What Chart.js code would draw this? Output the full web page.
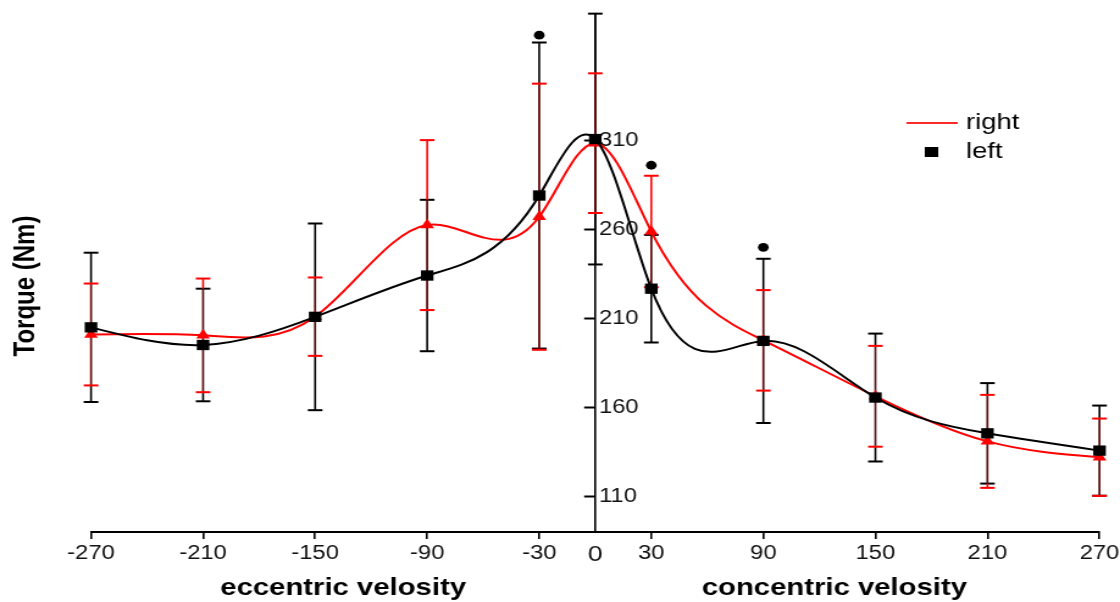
<!DOCTYPE html>
<html>
<head>
<meta charset="utf-8">
<script src="https://cdn.jsdelivr.net/npm/chart.js@4.4.1/dist/chart.umd.min.js"></script>
<style>
html,body{margin:0;padding:0;background:#fff;overflow:hidden}
</style>
</head>
<body>
<canvas id="c" width="918" height="602" style="display:block;width:1120px;height:602px"></canvas>
<script>
// ---------------- data ----------------
const velocities    = [-270, -210, -150, -90, -30, 0, 30, 90, 150, 210, 270];
const leftMeans     = [205.1, 195.2, 211.0, 234.2, 279.1, 310.8, 226.8, 197.5, 165.7, 145.6, 135.9];
const leftSD        = [41.9, 31.6, 52.4, 42.5, 85.9, 70.4, 30.2, 46.1, 35.9, 28.2, 25.3];
const rightMeans    = [201.1, 200.6, 211.1, 262.5, 267.2, 308.5, 258.9, 197.8, 166.4, 141.1, 132.2];
const rightSD       = [28.6, 31.9, 22.0, 47.7, 74.7, 39.2, 31.3, 28.2, 28.3, 26.1, 21.7];
const sigVelocities = [-30, 30, 90];
const sigMarks      = [369.1, 296.1, 250.0];
const xTicks        = [-270, -210, -150, -90, -30, 0, 30, 90, 150, 210, 270];
const yTicks        = [110, 160, 210, 260, 310];
const xTitles       = ['eccentric velosity', 'concentric velosity'];
const xTitleAt      = [-135, 128];
const seriesNames   = ['left', 'right'];
const yTitleText    = 'Torque (Nm)';

// ---------------- helpers ----------------
const FONT = "'Liberation Sans', Arial, sans-serif";
Chart.defaults.font.family = FONT;
Chart.defaults.color = '#000';
const RED = '#ff0000';

function makeSwatch(w, h, color) {
  const c = document.createElement('canvas');
  c.width = w; c.height = h;
  const g = c.getContext('2d');
  g.fillStyle = color; g.fillRect(0, 0, w, h);
  return c;
}
const legendLine = makeSwatch(42, 2, '#ff2a2a');
const legendSquare = makeSwatch(11, 10, '#000');

// natural cubic spline -> bezier control points on chart.js point elements
function naturalSplineControlPoints(pts) {
  const n = pts.length;
  if (n < 3) return;
  const h = [], dy = [];
  for (let i = 0; i < n - 1; i++) {
    h[i] = pts[i + 1].x - pts[i].x;
    dy[i] = (pts[i + 1].y - pts[i].y) / h[i];
  }
  const M = new Array(n).fill(0);
  const m = n - 2;
  const a = [], b = [], c = [], r = [];
  for (let k = 0; k < m; k++) {
    const i = k + 1;
    a[k] = h[i - 1]; b[k] = 2 * (h[i - 1] + h[i]); c[k] = h[i]; r[k] = 6 * (dy[i] - dy[i - 1]);
  }
  for (let k = 1; k < m; k++) {
    const w = a[k] / b[k - 1];
    b[k] -= w * c[k - 1];
    r[k] -= w * r[k - 1];
  }
  const sol = new Array(m);
  sol[m - 1] = r[m - 1] / b[m - 1];
  for (let k = m - 2; k >= 0; k--) sol[k] = (r[k] - c[k] * sol[k + 1]) / b[k];
  for (let k = 0; k < m; k++) M[k + 1] = sol[k];
  for (let i = 0; i < n; i++) {
    let d;
    if (i < n - 1) d = dy[i] - h[i] * (2 * M[i] + M[i + 1]) / 6;
    else d = dy[n - 2] + h[n - 2] * (M[n - 2] + 2 * M[n - 1]) / 6;
    const p = pts[i];
    if (i > 0) { p.cp1x = p.x - h[i - 1] / 3; p.cp1y = p.y - d * h[i - 1] / 3; }
    else { p.cp1x = p.x; p.cp1y = p.y; }
    if (i < n - 1) { p.cp2x = p.x + h[i] / 3; p.cp2y = p.y + d * h[i] / 3; }
    else { p.cp2x = p.x; p.cp2y = p.y; }
  }
}

const splinePlugin = {
  id: 'naturalSpline',
  beforeDatasetDraw(chart, args) {
    const ds = chart.data.datasets[args.index];
    if (!ds.naturalSpline) return;
    const line = args.meta.dataset;
    line.updateControlPoints(chart.chartArea, 'x');
    naturalSplineControlPoints(args.meta.data);
    line._path = undefined;
  }
};

const errorBarPlugin = {
  id: 'errorBars',
  beforeDatasetsDraw(chart) {
    const {ctx, scales} = chart;
    const xs = scales.x, ys = scales.y;
    const cap = 6;
    const bars = (means, sd) => velocities.map((v, i) => ({
      px: xs.getPixelForValue(v),
      top: ys.getPixelForValue(means[i] + sd[i]),
      bot: ys.getPixelForValue(means[i] - sd[i])
    }));
    const L = bars(leftMeans, leftSD), R = bars(rightMeans, rightSD);
    const seg = (x1, y1, x2, y2) => { ctx.beginPath(); ctx.moveTo(x1, y1); ctx.lineTo(x2, y2); ctx.stroke(); };
    ctx.save();
    ctx.strokeStyle = '#000';
    ctx.lineWidth = 1.6;
    L.forEach(b => seg(b.px, b.top, b.px, b.bot));
    ctx.lineWidth = 2;
    L.forEach(b => { seg(b.px - cap, b.top, b.px + cap, b.top); seg(b.px - cap, b.bot, b.px + cap, b.bot); });
    ctx.strokeStyle = RED;
    R.forEach((b, i) => {
      const k = L[i];
      ctx.lineWidth = 1.6;
      if (b.top < k.top) seg(b.px, b.top, b.px, Math.min(k.top, b.bot));
      if (b.bot > k.bot) seg(b.px, Math.max(k.bot, b.top), b.px, b.bot);
      const oTop = Math.max(b.top, k.top), oBot = Math.min(b.bot, k.bot);
      if (oBot > oTop) { ctx.lineWidth = 0.6; seg(b.px, oTop, b.px, oBot); }
    });
    ctx.lineWidth = 2;
    R.forEach(b => { seg(b.px - cap, b.top, b.px + cap, b.top); seg(b.px - cap, b.bot, b.px + cap, b.bot); });
    ctx.restore();
  }
};

const layoutPlugin = {
  id: 'layoutTweaks',
  afterLayout(chart) {
    const lg = chart.legend;
    if (lg) {
      lg.left = 739.95; lg.top = 104.95;
      lg.width = 170; lg.height = 80;
      lg.right = lg.left + lg.width; lg.bottom = lg.top + lg.height;
    }
    const yt = chart.scales.yTitle;
    if (yt) { yt.top = chart.chartArea.top + 26.5; }
  },
  beforeDraw(chart) {
    const ys = chart.scales.y;
    const x0 = chart.scales.x.getPixelForValue(0);
    const items = ys.getLabelItems(chart.chartArea);
    items.forEach(it => {
      if (it._moved) return;
      it.options.textAlign = 'left';
      it.options.translation = [x0 + 3, it.options.translation[1]];
      it._moved = true;
    });
  }
};

const pts = (xsArr, ysArr) => xsArr.map((v, i) => ({x: v, y: ysArr[i]}));

new Chart(document.getElementById('c'), {
  type: 'line',
  data: {
    datasets: [
      {
        label: 'significance',
        data: pts(sigVelocities, sigMarks),
        showLine: false,
        pointStyle: 'circle',
        pointRadius: 4.4,
        pointBackgroundColor: '#000',
        pointBorderColor: '#000',
        pointBorderWidth: 0,
        clip: false,
        order: 0
      },
      {
        label: seriesNames[0],
        data: pts(velocities, leftMeans),
        borderColor: '#000',
        borderWidth: 2,
        backgroundColor: '#000',
        pointStyle: 'rect',
        pointRadius: 7.3,
        pointBackgroundColor: '#000',
        pointBorderColor: '#000',
        pointBorderWidth: 0,
        tension: 0.4,
        naturalSpline: true,
        fill: false,
        clip: false,
        order: 1
      },
      {
        label: seriesNames[1],
        data: pts(velocities, rightMeans),
        borderColor: RED,
        borderWidth: 2,
        backgroundColor: RED,
        pointStyle: 'triangle',
        pointRadius: 6.5,
        pointBackgroundColor: RED,
        pointBorderColor: RED,
        pointBorderWidth: 0,
        tension: 0.4,
        naturalSpline: true,
        fill: false,
        clip: false,
        order: 2
      }
    ]
  },
  options: {
    responsive: false,
    devicePixelRatio: 1,
    animation: false,
    events: [],
    layout: {padding: {left: 0, right: 16.8, top: 14, bottom: 0}},
    scales: {
      x: {
        type: 'linear', position: 'bottom', min: -270, max: 270, bounds: 'data', weight: 0,
        afterBuildTicks: s => { s.ticks = xTicks.map(v => ({value: v})); },
        grid: {
          drawOnChartArea: false, drawTicks: true, tickLength: 7.5, tickWidth: 1.6,
          color: '#000', lineWidth: 1.6,
          tickColor: ctx => (ctx.tick && ctx.tick.value === 0) ? 'rgba(0,0,0,0)' : '#000'
        },
        border: {display: true, color: '#000', width: 2},
        ticks: {
          autoSkip: false, maxRotation: 0, minRotation: 0, padding: 0, color: '#111',
          font: ctx => (ctx.tick && ctx.tick.value === 0) ? {size: 22, lineHeight: 1.45} : {size: 19.5, lineHeight: 1.45},
          callback: v => String(v)
        },
        afterFit: s => { s.height = 40; }
      },
      x2: {
        type: 'linear', position: 'bottom', min: -270, max: 270, bounds: 'data', weight: 1,
        afterBuildTicks: s => { s.ticks = xTitleAt.map(v => ({value: v})); },
        grid: {display: false, drawTicks: false},
        border: {display: false},
        ticks: {
          autoSkip: false, maxRotation: 0, minRotation: 0, padding: 0, color: '#000',
          font: {size: 24, weight: 'bold', lineHeight: 1.42},
          callback: (v, i) => xTitles[i]
        },
        afterFit: s => { s.height = 30.5; }
      },
      y: {
        type: 'linear', position: {x: 0}, min: 90.5, max: 381, bounds: 'data',
        afterBuildTicks: s => { s.ticks = yTicks.map(v => ({value: v})); },
        grid: {drawOnChartArea: false, drawTicks: true, tickLength: 8.2, tickWidth: 2, tickColor: '#000', color: '#000'},
        border: {display: true, color: '#000', width: 1.6},
        ticks: {padding: 0, color: '#111', font: {size: 19.5, lineHeight: 1.2}, callback: v => String(v)}
      },
      yTitle: {
        type: 'linear', position: 'left', display: true,
        grid: {display: false, drawTicks: false},
        border: {display: false},
        ticks: {display: false},
        title: {
          display: true, text: yTitleText, color: '#000',
          font: {size: 24, weight: 'bold', lineHeight: 1.2},
          padding: {top: 6.8, bottom: 0}
        },
        afterFit: s => { s.width = 74.6; }
      }
    },
    plugins: {
      tooltip: {enabled: false},
      legend: {
        display: true,
        position: 'chartArea',
        align: 'start',
        labels: {
          usePointStyle: true,
          pointStyleWidth: 34.1,
          padding: 6.5,
          color: '#000',
          font: {size: 22.5, lineHeight: 1.2},
          generateLabels(chart) {
            const base = Chart.defaults.plugins.legend.labels.generateLabels(chart);
            const r = base.find(it => it.datasetIndex === 2);
            const l = base.find(it => it.datasetIndex === 1);
            r.pointStyle = legendLine; r.fillStyle = RED; r.strokeStyle = RED;
            l.pointStyle = legendSquare; l.fillStyle = '#000'; l.strokeStyle = '#000';
            return [r, l];
          }
        }
      }
    }
  },
  plugins: [splinePlugin, errorBarPlugin, layoutPlugin]
});
</script>
</body>
</html>
